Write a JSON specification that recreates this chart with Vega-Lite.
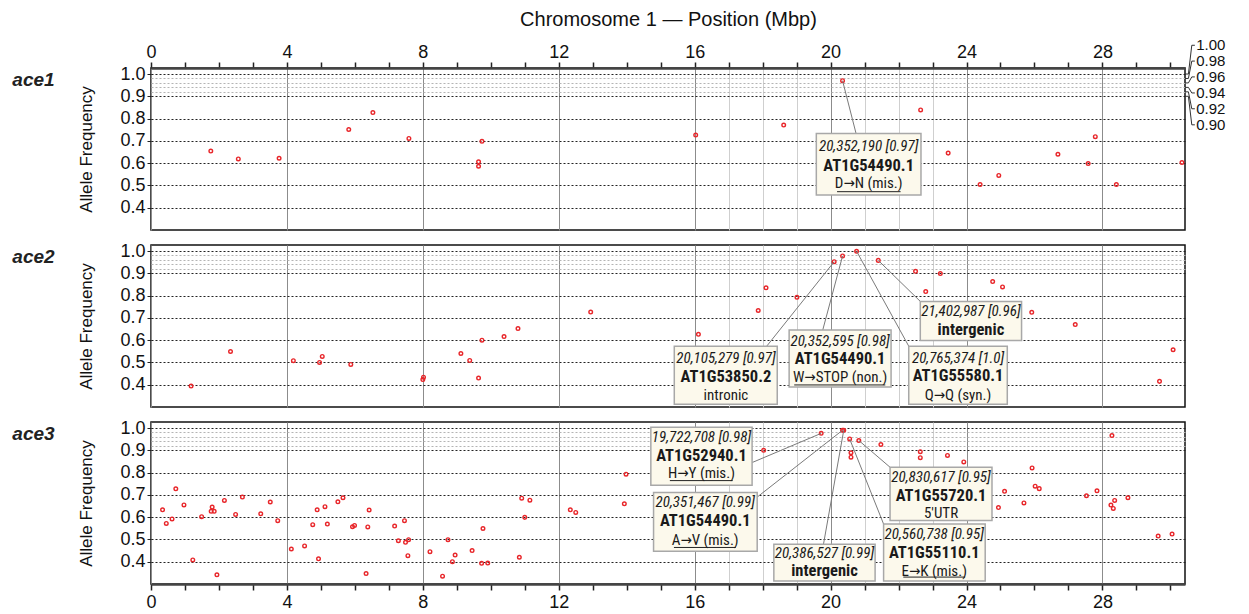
{
  "$schema": "https://vega.github.io/schema/vega-lite/v6.json",
  "padding": {"left": 11, "top": 8, "right": 5, "bottom": 2},
  "background": "white",
  "bounds": "flush",
  "spacing": 15,
  "config": {
    "view": {"stroke": "#111", "strokeWidth": 1.5},
    "font": "Liberation Sans",
    "axis": {
      "labelFont": "Liberation Sans",
      "titleFont": "Liberation Sans",
      "labelColor": "#111",
      "titleColor": "#111",
      "labelFontSize": 18,
      "titleFontWeight": "normal",
      "labelFlush": false,
      "labelOverlap": false
    }
  },
  "datasets": {
    "pts": [
      {"p": 1, "x": 1.76, "y": 0.654}, {"p": 1, "x": 2.57, "y": 0.619}, {"p": 1, "x": 3.77, "y": 0.622},
      {"p": 1, "x": 5.82, "y": 0.751}, {"p": 1, "x": 6.53, "y": 0.827}, {"p": 1, "x": 7.59, "y": 0.711},
      {"p": 1, "x": 9.74, "y": 0.698}, {"p": 1, "x": 9.64, "y": 0.606}, {"p": 1, "x": 9.64, "y": 0.586},
      {"p": 1, "x": 16.03, "y": 0.726}, {"p": 1, "x": 18.62, "y": 0.771}, {"p": 1, "x": 20.352, "y": 0.97},
      {"p": 1, "x": 22.65, "y": 0.839}, {"p": 1, "x": 23.46, "y": 0.645}, {"p": 1, "x": 24.4, "y": 0.504},
      {"p": 1, "x": 24.95, "y": 0.545}, {"p": 1, "x": 26.69, "y": 0.64}, {"p": 1, "x": 27.58, "y": 0.598},
      {"p": 1, "x": 27.79, "y": 0.719}, {"p": 1, "x": 28.41, "y": 0.504}, {"p": 1, "x": 30.34, "y": 0.603},

      {"p": 2, "x": 1.18, "y": 0.394}, {"p": 2, "x": 2.34, "y": 0.549}, {"p": 2, "x": 4.19, "y": 0.508},
      {"p": 2, "x": 4.96, "y": 0.5}, {"p": 2, "x": 5.04, "y": 0.527}, {"p": 2, "x": 5.88, "y": 0.491},
      {"p": 2, "x": 8.0, "y": 0.423}, {"p": 2, "x": 8.02, "y": 0.434}, {"p": 2, "x": 9.12, "y": 0.54},
      {"p": 2, "x": 9.38, "y": 0.509}, {"p": 2, "x": 9.64, "y": 0.43}, {"p": 2, "x": 9.74, "y": 0.6},
      {"p": 2, "x": 10.39, "y": 0.616}, {"p": 2, "x": 10.8, "y": 0.652}, {"p": 2, "x": 12.94, "y": 0.726},
      {"p": 2, "x": 16.11, "y": 0.626}, {"p": 2, "x": 17.87, "y": 0.733}, {"p": 2, "x": 18.1, "y": 0.835},
      {"p": 2, "x": 19.01, "y": 0.792}, {"p": 2, "x": 20.105, "y": 0.952}, {"p": 2, "x": 20.353, "y": 0.978},
      {"p": 2, "x": 20.765, "y": 0.999}, {"p": 2, "x": 21.403, "y": 0.958}, {"p": 2, "x": 22.5, "y": 0.909},
      {"p": 2, "x": 22.8, "y": 0.818}, {"p": 2, "x": 23.23, "y": 0.899}, {"p": 2, "x": 24.77, "y": 0.863},
      {"p": 2, "x": 25.06, "y": 0.839}, {"p": 2, "x": 25.92, "y": 0.725}, {"p": 2, "x": 27.2, "y": 0.67},
      {"p": 2, "x": 29.68, "y": 0.415}, {"p": 2, "x": 30.08, "y": 0.557},

      {"p": 3, "x": 0.34, "y": 0.633}, {"p": 3, "x": 0.45, "y": 0.572}, {"p": 3, "x": 0.62, "y": 0.592},
      {"p": 3, "x": 0.73, "y": 0.727}, {"p": 3, "x": 0.97, "y": 0.655}, {"p": 3, "x": 1.23, "y": 0.408},
      {"p": 3, "x": 1.49, "y": 0.602}, {"p": 3, "x": 1.77, "y": 0.626}, {"p": 3, "x": 1.8, "y": 0.645},
      {"p": 3, "x": 1.86, "y": 0.626}, {"p": 3, "x": 1.94, "y": 0.341}, {"p": 3, "x": 2.16, "y": 0.675},
      {"p": 3, "x": 2.49, "y": 0.612}, {"p": 3, "x": 2.69, "y": 0.69}, {"p": 3, "x": 3.23, "y": 0.615},
      {"p": 3, "x": 3.51, "y": 0.668}, {"p": 3, "x": 3.73, "y": 0.584}, {"p": 3, "x": 4.13, "y": 0.457},
      {"p": 3, "x": 4.52, "y": 0.471}, {"p": 3, "x": 4.76, "y": 0.566}, {"p": 3, "x": 4.89, "y": 0.633},
      {"p": 3, "x": 4.93, "y": 0.413}, {"p": 3, "x": 5.12, "y": 0.647}, {"p": 3, "x": 5.19, "y": 0.569},
      {"p": 3, "x": 5.5, "y": 0.669}, {"p": 3, "x": 5.65, "y": 0.687}, {"p": 3, "x": 5.93, "y": 0.557},
      {"p": 3, "x": 5.99, "y": 0.563}, {"p": 3, "x": 6.33, "y": 0.347}, {"p": 3, "x": 6.38, "y": 0.556},
      {"p": 3, "x": 6.42, "y": 0.632}, {"p": 3, "x": 7.17, "y": 0.56}, {"p": 3, "x": 7.28, "y": 0.494},
      {"p": 3, "x": 7.46, "y": 0.584}, {"p": 3, "x": 7.49, "y": 0.487}, {"p": 3, "x": 7.58, "y": 0.499},
      {"p": 3, "x": 7.56, "y": 0.427}, {"p": 3, "x": 8.21, "y": 0.445}, {"p": 3, "x": 8.58, "y": 0.335},
      {"p": 3, "x": 8.74, "y": 0.499}, {"p": 3, "x": 8.87, "y": 0.4}, {"p": 3, "x": 8.95, "y": 0.43},
      {"p": 3, "x": 9.45, "y": 0.45}, {"p": 3, "x": 9.73, "y": 0.393}, {"p": 3, "x": 9.77, "y": 0.549},
      {"p": 3, "x": 9.91, "y": 0.394}, {"p": 3, "x": 10.84, "y": 0.42}, {"p": 3, "x": 10.91, "y": 0.685},
      {"p": 3, "x": 11.0, "y": 0.599}, {"p": 3, "x": 11.15, "y": 0.676}, {"p": 3, "x": 12.34, "y": 0.633},
      {"p": 3, "x": 12.5, "y": 0.621}, {"p": 3, "x": 13.93, "y": 0.66}, {"p": 3, "x": 13.98, "y": 0.793},
      {"p": 3, "x": 18.03, "y": 0.9}, {"p": 3, "x": 19.723, "y": 0.976}, {"p": 3, "x": 20.351, "y": 0.99},
      {"p": 3, "x": 20.387, "y": 0.99}, {"p": 3, "x": 20.561, "y": 0.951}, {"p": 3, "x": 20.6, "y": 0.889},
      {"p": 3, "x": 20.6, "y": 0.869}, {"p": 3, "x": 20.831, "y": 0.944}, {"p": 3, "x": 21.48, "y": 0.926},
      {"p": 3, "x": 22.64, "y": 0.894}, {"p": 3, "x": 22.64, "y": 0.867}, {"p": 3, "x": 23.44, "y": 0.877},
      {"p": 3, "x": 23.92, "y": 0.848}, {"p": 3, "x": 24.94, "y": 0.643}, {"p": 3, "x": 25.12, "y": 0.716},
      {"p": 3, "x": 25.69, "y": 0.664}, {"p": 3, "x": 25.93, "y": 0.821}, {"p": 3, "x": 26.02, "y": 0.739},
      {"p": 3, "x": 26.14, "y": 0.728}, {"p": 3, "x": 27.53, "y": 0.696}, {"p": 3, "x": 27.84, "y": 0.718},
      {"p": 3, "x": 28.28, "y": 0.966}, {"p": 3, "x": 28.25, "y": 0.654}, {"p": 3, "x": 28.36, "y": 0.675},
      {"p": 3, "x": 28.32, "y": 0.639}, {"p": 3, "x": 28.75, "y": 0.687}, {"p": 3, "x": 29.64, "y": 0.515},
      {"p": 3, "x": 30.05, "y": 0.524}
    ],
    "box": [
      {"p": 1, "x": 19.58, "x2": 22.66, "y": 0.733, "y2": 0.457},
      {"p": 2, "x": 15.4, "x2": 18.43, "y": 0.573, "y2": 0.3125},
      {"p": 2, "x": 18.78, "x2": 21.78, "y": 0.646, "y2": 0.39},
      {"p": 2, "x": 22.3, "x2": 25.2, "y": 0.573, "y2": 0.3125},
      {"p": 2, "x": 22.64, "x2": 25.62, "y": 0.774, "y2": 0.598},
      {"p": 3, "x": 14.71, "x2": 17.69, "y": 1.003, "y2": 0.743},
      {"p": 3, "x": 14.79, "x2": 17.84, "y": 0.711, "y2": 0.447},
      {"p": 3, "x": 18.33, "x2": 21.31, "y": 0.478, "y2": 0.314},
      {"p": 3, "x": 21.75, "x2": 24.75, "y": 0.824, "y2": 0.585},
      {"p": 3, "x": 21.56, "x2": 24.55, "y": 0.569, "y2": 0.314}
    ],
    "conn": [
      {"p": 1, "x": 20.352, "y": 0.97, "x2": 20.75, "y2": 0.733},
      {"p": 2, "x": 20.105, "y": 0.952, "x2": 18.12, "y2": 0.573},
      {"p": 2, "x": 20.353, "y": 0.978, "x2": 19.77, "y2": 0.646},
      {"p": 2, "x": 20.765, "y": 0.999, "x2": 22.3, "y2": 0.573},
      {"p": 2, "x": 21.403, "y": 0.958, "x2": 22.64, "y2": 0.774},
      {"p": 3, "x": 19.723, "y": 0.976, "x2": 17.69, "y2": 0.845},
      {"p": 3, "x": 20.351, "y": 0.99, "x2": 17.84, "y2": 0.69},
      {"p": 3, "x": 20.387, "y": 0.99, "x2": 19.79, "y2": 0.478},
      {"p": 3, "x": 20.831, "y": 0.944, "x2": 21.75, "y2": 0.824},
      {"p": 3, "x": 20.561, "y": 0.951, "x2": 21.56, "y2": 0.569}
    ],
    "txt": [
      {"p": 1, "x": 21.12, "y": 0.675, "t": "20,352,190 [0.97]", "s": "i"},
      {"p": 1, "x": 21.12, "y": 0.586, "t": "AT1G54490.1", "s": "b"},
      {"p": 1, "x": 21.12, "y": 0.509, "t": "D→N (mis.)", "s": "r"},
      {"p": 2, "x": 16.92, "y": 0.521, "t": "20,105,279 [0.97]", "s": "i"},
      {"p": 2, "x": 16.92, "y": 0.434, "t": "AT1G53850.2", "s": "b"},
      {"p": 2, "x": 16.92, "y": 0.356, "t": "intronic", "s": "r"},
      {"p": 2, "x": 20.28, "y": 0.598, "t": "20,352,595 [0.98]", "s": "i"},
      {"p": 2, "x": 20.28, "y": 0.517, "t": "AT1G54490.1", "s": "b"},
      {"p": 2, "x": 20.28, "y": 0.434, "t": "W→STOP (non.)", "s": "r"},
      {"p": 2, "x": 23.75, "y": 0.521, "t": "20,765,374 [1.0]", "s": "i"},
      {"p": 2, "x": 23.75, "y": 0.438, "t": "AT1G55580.1", "s": "b"},
      {"p": 2, "x": 23.75, "y": 0.356, "t": "Q→Q (syn.)", "s": "r"},
      {"p": 2, "x": 24.13, "y": 0.729, "t": "21,402,987 [0.96]", "s": "i"},
      {"p": 2, "x": 24.13, "y": 0.647, "t": "intergenic", "s": "b"},
      {"p": 3, "x": 16.2, "y": 0.961, "t": "19,722,708 [0.98]", "s": "i"},
      {"p": 3, "x": 16.2, "y": 0.876, "t": "AT1G52940.1", "s": "b"},
      {"p": 3, "x": 16.2, "y": 0.799, "t": "H→Y (mis.)", "s": "r"},
      {"p": 3, "x": 16.31, "y": 0.67, "t": "20,351,467 [0.99]", "s": "i"},
      {"p": 3, "x": 16.31, "y": 0.581, "t": "AT1G54490.1", "s": "b"},
      {"p": 3, "x": 16.31, "y": 0.499, "t": "A→V (mis.)", "s": "r"},
      {"p": 3, "x": 19.82, "y": 0.439, "t": "20,386,527 [0.99]", "s": "i"},
      {"p": 3, "x": 19.82, "y": 0.36, "t": "intergenic", "s": "b"},
      {"p": 3, "x": 23.25, "y": 0.782, "t": "20,830,617 [0.95]", "s": "i"},
      {"p": 3, "x": 23.25, "y": 0.696, "t": "AT1G55720.1", "s": "b"},
      {"p": 3, "x": 23.25, "y": 0.62, "t": "5'UTR", "s": "r"},
      {"p": 3, "x": 23.05, "y": 0.524, "t": "20,560,738 [0.95]", "s": "i"},
      {"p": 3, "x": 23.05, "y": 0.439, "t": "AT1G55110.1", "s": "b"},
      {"p": 3, "x": 23.05, "y": 0.36, "t": "E→K (mis.)", "s": "r"}
    ],
    "ul": [
      {"p": 1, "x": 20.19, "x2": 22.06, "y": 0.472},
      {"p": 2, "x": 18.93, "x2": 21.61, "y": 0.399},
      {"p": 3, "x": 15.27, "x2": 17.12, "y": 0.764},
      {"p": 3, "x": 15.39, "x2": 17.21, "y": 0.464},
      {"p": 3, "x": 22.14, "x2": 23.96, "y": 0.331}
    ],
    "row": [
      {"p": 1, "x": -4.08, "y": 0.975, "t": "ace1"},
      {"p": 2, "x": -4.08, "y": 0.972, "t": "ace2"},
      {"p": 3, "x": -4.08, "y": 0.975, "t": "ace3"}
    ],
    "lead": [
      {"k": "1.00", "o": 1, "x": 30.43, "y": 1.0}, {"k": "1.00", "o": 2, "x": 30.53, "y": 1.0},
      {"k": "1.00", "o": 3, "x": 30.63, "y": 1.129}, {"k": "1.00", "o": 4, "x": 30.72, "y": 1.129},
      {"k": "0.98", "o": 1, "x": 30.43, "y": 0.98}, {"k": "0.98", "o": 2, "x": 30.53, "y": 0.98},
      {"k": "0.98", "o": 3, "x": 30.63, "y": 1.058}, {"k": "0.98", "o": 4, "x": 30.72, "y": 1.058},
      {"k": "0.96", "o": 1, "x": 30.43, "y": 0.96}, {"k": "0.96", "o": 2, "x": 30.53, "y": 0.96},
      {"k": "0.96", "o": 3, "x": 30.63, "y": 0.987}, {"k": "0.96", "o": 4, "x": 30.72, "y": 0.987},
      {"k": "0.94", "o": 1, "x": 30.43, "y": 0.94}, {"k": "0.94", "o": 2, "x": 30.53, "y": 0.94},
      {"k": "0.94", "o": 3, "x": 30.63, "y": 0.915}, {"k": "0.94", "o": 4, "x": 30.72, "y": 0.915},
      {"k": "0.92", "o": 1, "x": 30.43, "y": 0.92}, {"k": "0.92", "o": 2, "x": 30.53, "y": 0.92},
      {"k": "0.92", "o": 3, "x": 30.63, "y": 0.844}, {"k": "0.92", "o": 4, "x": 30.72, "y": 0.844},
      {"k": "0.90", "o": 1, "x": 30.43, "y": 0.9}, {"k": "0.90", "o": 2, "x": 30.53, "y": 0.9},
      {"k": "0.90", "o": 3, "x": 30.63, "y": 0.772}, {"k": "0.90", "o": 4, "x": 30.72, "y": 0.772}
    ],
    "leadlab": [
      {"x": 30.76, "y": 1.129, "t": "1.00"},
      {"x": 30.76, "y": 1.058, "t": "0.98"},
      {"x": 30.76, "y": 0.987, "t": "0.96"},
      {"x": 30.76, "y": 0.915, "t": "0.94"},
      {"x": 30.76, "y": 0.844, "t": "0.92"},
      {"x": 30.76, "y": 0.772, "t": "0.90"}
    ]
  },
  "vconcat": [
    {
      "width": 1034,
      "height": 162,
      "layer": [
        {
          "data": {"name": "pts"},
          "transform": [{"filter": "datum.p === 1"}],
          "mark": {"type": "point", "shape": "circle", "filled": false, "size": 13, "strokeWidth": 1.4, "color": "#e8262a", "opacity": 1},
          "encoding": {
            "x": {
              "field": "x", "type": "quantitative",
              "scale": {"domain": [0, 30.43], "nice": false, "zero": false},
              "axis": {
                "orient": "top",
                "values": [0,1,2,3,4,5,6,7,8,9,10,11,12,13,14,15,16,17,18,19,20,21,22,23,24,25,26,27,28,29,30],
                "tickCount": 60,
                "labelExpr": "datum.value % 4 === 0 ? format(datum.value, 'd') : ''",
                "title": "Chromosome 1 — Position (Mbp)",
                "titleFontSize": 20,
                "titlePadding": 14,
                "labelPadding": 1,
                "tickSize": 6,
                "tickWidth": 1.5,
                "tickColor": "#222",
                "domainColor": "#444",
                "domainWidth": 2.5,
                "grid": true,
                "gridWidth": 1,
                "gridColor": {"condition": {"test": "datum.value % 4 === 0", "value": "#8c8c8c"}, "value": "#cfcfcf"},
                "gridOpacity": {"condition": {"test": "datum.value % 4 === 0 || (datum.value > 16 && datum.value < 24)", "value": 1}, "value": 0}
              }
            },
            "y": {
              "field": "y", "type": "quantitative",
              "scale": {"domain": [0.3, 1.027], "nice": false, "zero": false},
              "axis": {
                "values": [0.4, 0.5, 0.6, 0.7, 0.8, 0.9, 0.92, 0.94, 0.96, 0.98, 1],
                "tickCount": 40,
                "labelExpr": "(datum.value > 0.91 && datum.value < 0.99) ? '' : format(datum.value, '.1f')",
                "title": "Allele Frequency",
                "titleFontSize": 17,
                "titlePadding": 24,
                "labelPadding": 2,
                "tickSize": 4,
                "tickColor": "#222",
                "tickOpacity": {"condition": {"test": "datum.value > 0.91 && datum.value < 0.99", "value": 0}, "value": 1},
                "domain": false,
                "grid": true,
                "gridDash": [2, 2],
                "gridWidth": 1,
                "gridColor": {"condition": {"test": "datum.value > 0.91 && datum.value < 0.99", "value": "#b4b4b4"}, "value": "#222"}
              }
            }
          }
        },
        {
          "data": {"name": "conn"},
          "transform": [{"filter": "datum.p === 1"}],
          "mark": {"type": "rule", "color": "#7a7a7a", "strokeWidth": 1},
          "encoding": {
            "x": {"field": "x", "type": "quantitative"},
            "y": {"field": "y", "type": "quantitative"},
            "x2": {"field": "x2"},
            "y2": {"field": "y2"}
          }
        },
        {
          "data": {"name": "box"},
          "transform": [{"filter": "datum.p === 1"}],
          "mark": {"type": "rect", "fill": "#fcf9ec", "stroke": "#a8a8a8", "strokeWidth": 1.5},
          "encoding": {
            "x": {"field": "x", "type": "quantitative"},
            "x2": {"field": "x2"},
            "y": {"field": "y", "type": "quantitative"},
            "y2": {"field": "y2"}
          }
        },
        {
          "data": {"name": "ul"},
          "transform": [{"filter": "datum.p === 1"}],
          "mark": {"type": "rule", "color": "#222", "strokeWidth": 1},
          "encoding": {
            "x": {"field": "x", "type": "quantitative"},
            "x2": {"field": "x2"},
            "y": {"field": "y", "type": "quantitative"}
          }
        },
        {
          "data": {"name": "txt"},
          "transform": [{"filter": "datum.p === 1"}],
          "mark": {
            "type": "text", "font": "Roboto Condensed, DejaVu Sans Condensed, Liberation Sans, sans-serif", "color": "#1a1a1a", "baseline": "middle", "align": "center",
            "fontSize": {"expr": "datum.s === 'b' ? 16.5 : 15"},
            "fontWeight": {"expr": "datum.s === 'b' ? 'bold' : 'normal'"},
            "fontStyle": {"expr": "datum.s === 'i' ? 'italic' : 'normal'"}
          },
          "encoding": {
            "x": {"field": "x", "type": "quantitative"},
            "y": {"field": "y", "type": "quantitative"},
            "text": {"field": "t"}
          }
        },
        {
          "data": {"name": "row"},
          "transform": [{"filter": "datum.p === 1"}],
          "mark": {"type": "text", "fontSize": 19, "fontWeight": "bold", "fontStyle": "italic", "align": "left", "baseline": "middle", "color": "#222"},
          "encoding": {
            "x": {"field": "x", "type": "quantitative"},
            "y": {"field": "y", "type": "quantitative"},
            "text": {"field": "t"}
          }
        },
        {
          "data": {"name": "lead"},
          "mark": {"type": "line", "color": "#333", "strokeWidth": 1},
          "encoding": {
            "x": {"field": "x", "type": "quantitative"},
            "y": {"field": "y", "type": "quantitative"},
            "detail": {"field": "k"},
            "order": {"field": "o"}
          }
        },
        {
          "data": {"name": "leadlab"},
          "mark": {"type": "text", "fontSize": 15, "align": "left", "baseline": "middle", "color": "#111"},
          "encoding": {
            "x": {"field": "x", "type": "quantitative"},
            "y": {"field": "y", "type": "quantitative"},
            "text": {"field": "t"}
          }
        }
      ]
    },
    {
      "width": 1034,
      "height": 162,
      "layer": [
        {
          "data": {"name": "pts"},
          "transform": [{"filter": "datum.p === 2"}],
          "mark": {"type": "point", "shape": "circle", "filled": false, "size": 13, "strokeWidth": 1.4, "color": "#e8262a", "opacity": 1},
          "encoding": {
            "x": {
              "field": "x", "type": "quantitative",
              "scale": {"domain": [0, 30.43], "nice": false, "zero": false},
              "axis": {
                "orient": "bottom",
                "values": [0,1,2,3,4,5,6,7,8,9,10,11,12,13,14,15,16,17,18,19,20,21,22,23,24,25,26,27,28,29,30],
                "tickCount": 60,
                "labels": false,
                "ticks": false,
                "domain": false,
                "title": null,
                "grid": true,
                "gridWidth": 1,
                "gridColor": {"condition": {"test": "datum.value % 4 === 0", "value": "#8c8c8c"}, "value": "#cfcfcf"},
                "gridOpacity": {"condition": {"test": "datum.value % 4 === 0 || (datum.value > 16 && datum.value < 24)", "value": 1}, "value": 0}
              }
            },
            "y": {
              "field": "y", "type": "quantitative",
              "scale": {"domain": [0.3, 1.027], "nice": false, "zero": false},
              "axis": {
                "values": [0.4, 0.5, 0.6, 0.7, 0.8, 0.9, 0.92, 0.94, 0.96, 0.98, 1],
                "tickCount": 40,
                "labelExpr": "(datum.value > 0.91 && datum.value < 0.99) ? '' : format(datum.value, '.1f')",
                "title": "Allele Frequency",
                "titleFontSize": 17,
                "titlePadding": 24,
                "labelPadding": 2,
                "tickSize": 4,
                "tickColor": "#222",
                "tickOpacity": {"condition": {"test": "datum.value > 0.91 && datum.value < 0.99", "value": 0}, "value": 1},
                "domain": false,
                "grid": true,
                "gridDash": [2, 2],
                "gridWidth": 1,
                "gridColor": {"condition": {"test": "datum.value > 0.91 && datum.value < 0.99", "value": "#b4b4b4"}, "value": "#222"}
              }
            }
          }
        },
        {
          "data": {"name": "conn"},
          "transform": [{"filter": "datum.p === 2"}],
          "mark": {"type": "rule", "color": "#7a7a7a", "strokeWidth": 1},
          "encoding": {
            "x": {"field": "x", "type": "quantitative"},
            "y": {"field": "y", "type": "quantitative"},
            "x2": {"field": "x2"},
            "y2": {"field": "y2"}
          }
        },
        {
          "data": {"name": "box"},
          "transform": [{"filter": "datum.p === 2"}],
          "mark": {"type": "rect", "fill": "#fcf9ec", "stroke": "#a8a8a8", "strokeWidth": 1.5},
          "encoding": {
            "x": {"field": "x", "type": "quantitative"},
            "x2": {"field": "x2"},
            "y": {"field": "y", "type": "quantitative"},
            "y2": {"field": "y2"}
          }
        },
        {
          "data": {"name": "ul"},
          "transform": [{"filter": "datum.p === 2"}],
          "mark": {"type": "rule", "color": "#222", "strokeWidth": 1},
          "encoding": {
            "x": {"field": "x", "type": "quantitative"},
            "x2": {"field": "x2"},
            "y": {"field": "y", "type": "quantitative"}
          }
        },
        {
          "data": {"name": "txt"},
          "transform": [{"filter": "datum.p === 2"}],
          "mark": {
            "type": "text", "font": "Roboto Condensed, DejaVu Sans Condensed, Liberation Sans, sans-serif", "color": "#1a1a1a", "baseline": "middle", "align": "center",
            "fontSize": {"expr": "datum.s === 'b' ? 16.5 : 15"},
            "fontWeight": {"expr": "datum.s === 'b' ? 'bold' : 'normal'"},
            "fontStyle": {"expr": "datum.s === 'i' ? 'italic' : 'normal'"}
          },
          "encoding": {
            "x": {"field": "x", "type": "quantitative"},
            "y": {"field": "y", "type": "quantitative"},
            "text": {"field": "t"}
          }
        },
        {
          "data": {"name": "row"},
          "transform": [{"filter": "datum.p === 2"}],
          "mark": {"type": "text", "fontSize": 19, "fontWeight": "bold", "fontStyle": "italic", "align": "left", "baseline": "middle", "color": "#222"},
          "encoding": {
            "x": {"field": "x", "type": "quantitative"},
            "y": {"field": "y", "type": "quantitative"},
            "text": {"field": "t"}
          }
        }
      ]
    },
    {
      "width": 1034,
      "height": 162,
      "layer": [
        {
          "data": {"name": "pts"},
          "transform": [{"filter": "datum.p === 3"}],
          "mark": {"type": "point", "shape": "circle", "filled": false, "size": 13, "strokeWidth": 1.4, "color": "#e8262a", "opacity": 1},
          "encoding": {
            "x": {
              "field": "x", "type": "quantitative",
              "scale": {"domain": [0, 30.43], "nice": false, "zero": false},
              "axis": {
                "orient": "bottom",
                "values": [0,1,2,3,4,5,6,7,8,9,10,11,12,13,14,15,16,17,18,19,20,21,22,23,24,25,26,27,28,29,30],
                "tickCount": 60,
                "labelExpr": "datum.value % 4 === 0 ? format(datum.value, 'd') : ''",
                "title": null,
                "labelPadding": 3,
                "tickSize": 6,
                "tickWidth": 1.5,
                "tickColor": "#222",
                "domainColor": "#444",
                "domainWidth": 2.5,
                "grid": true,
                "gridWidth": 1,
                "gridColor": {"condition": {"test": "datum.value % 4 === 0", "value": "#8c8c8c"}, "value": "#cfcfcf"},
                "gridOpacity": {"condition": {"test": "datum.value % 4 === 0 || (datum.value > 16 && datum.value < 24)", "value": 1}, "value": 0}
              }
            },
            "y": {
              "field": "y", "type": "quantitative",
              "scale": {"domain": [0.3, 1.027], "nice": false, "zero": false},
              "axis": {
                "values": [0.4, 0.5, 0.6, 0.7, 0.8, 0.9, 0.92, 0.94, 0.96, 0.98, 1],
                "tickCount": 40,
                "labelExpr": "(datum.value > 0.91 && datum.value < 0.99) ? '' : format(datum.value, '.1f')",
                "title": "Allele Frequency",
                "titleFontSize": 17,
                "titlePadding": 24,
                "labelPadding": 2,
                "tickSize": 4,
                "tickColor": "#222",
                "tickOpacity": {"condition": {"test": "datum.value > 0.91 && datum.value < 0.99", "value": 0}, "value": 1},
                "domain": false,
                "grid": true,
                "gridDash": [2, 2],
                "gridWidth": 1,
                "gridColor": {"condition": {"test": "datum.value > 0.91 && datum.value < 0.99", "value": "#b4b4b4"}, "value": "#222"}
              }
            }
          }
        },
        {
          "data": {"name": "conn"},
          "transform": [{"filter": "datum.p === 3"}],
          "mark": {"type": "rule", "color": "#7a7a7a", "strokeWidth": 1},
          "encoding": {
            "x": {"field": "x", "type": "quantitative"},
            "y": {"field": "y", "type": "quantitative"},
            "x2": {"field": "x2"},
            "y2": {"field": "y2"}
          }
        },
        {
          "data": {"name": "box"},
          "transform": [{"filter": "datum.p === 3"}],
          "mark": {"type": "rect", "fill": "#fcf9ec", "stroke": "#a8a8a8", "strokeWidth": 1.5},
          "encoding": {
            "x": {"field": "x", "type": "quantitative"},
            "x2": {"field": "x2"},
            "y": {"field": "y", "type": "quantitative"},
            "y2": {"field": "y2"}
          }
        },
        {
          "data": {"name": "ul"},
          "transform": [{"filter": "datum.p === 3"}],
          "mark": {"type": "rule", "color": "#222", "strokeWidth": 1},
          "encoding": {
            "x": {"field": "x", "type": "quantitative"},
            "x2": {"field": "x2"},
            "y": {"field": "y", "type": "quantitative"}
          }
        },
        {
          "data": {"name": "txt"},
          "transform": [{"filter": "datum.p === 3"}],
          "mark": {
            "type": "text", "font": "Roboto Condensed, DejaVu Sans Condensed, Liberation Sans, sans-serif", "color": "#1a1a1a", "baseline": "middle", "align": "center",
            "fontSize": {"expr": "datum.s === 'b' ? 16.5 : 15"},
            "fontWeight": {"expr": "datum.s === 'b' ? 'bold' : 'normal'"},
            "fontStyle": {"expr": "datum.s === 'i' ? 'italic' : 'normal'"}
          },
          "encoding": {
            "x": {"field": "x", "type": "quantitative"},
            "y": {"field": "y", "type": "quantitative"},
            "text": {"field": "t"}
          }
        },
        {
          "data": {"name": "row"},
          "transform": [{"filter": "datum.p === 3"}],
          "mark": {"type": "text", "fontSize": 19, "fontWeight": "bold", "fontStyle": "italic", "align": "left", "baseline": "middle", "color": "#222"},
          "encoding": {
            "x": {"field": "x", "type": "quantitative"},
            "y": {"field": "y", "type": "quantitative"},
            "text": {"field": "t"}
          }
        }
      ]
    }
  ]
}
